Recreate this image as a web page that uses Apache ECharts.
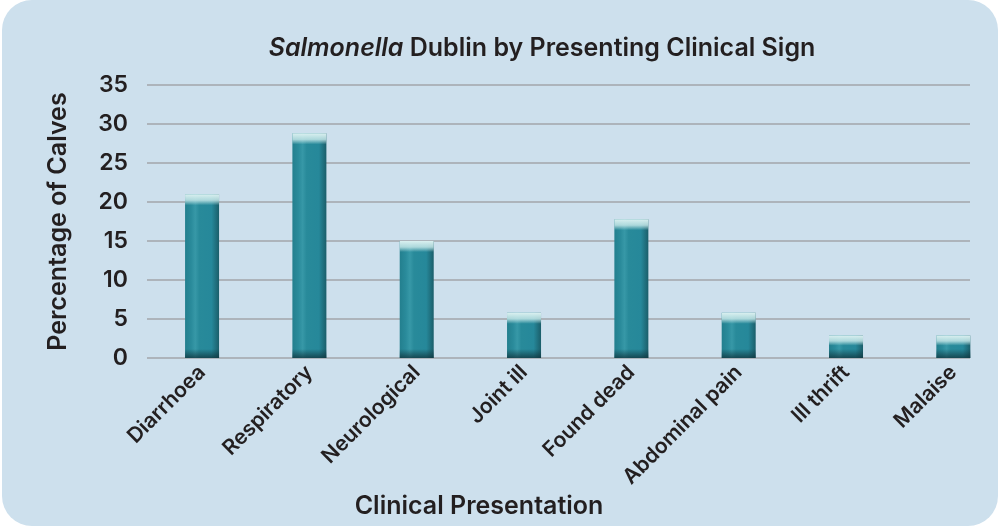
<!DOCTYPE html>
<html>
<head>
<meta charset="utf-8">
<script src="https://cdn.jsdelivr.net/npm/echarts@6/dist/echarts.min.js"></script>
<style>
  html, body { margin: 0; padding: 0; background: #fff; }
  #chart { width: 1000px; height: 526px; }
</style>
</head>
<body>
<div id="chart"></div>
<script>
var categories = ['Diarrhoea', 'Respiratory', 'Neurological', 'Joint ill', 'Found dead', 'Abdominal pain', 'Ill thrift', 'Malaise'];
var percentages = [21, 28.8, 15, 5.8, 17.8, 5.8, 2.9, 2.9];
var yTicks = [0, 5, 10, 15, 20, 25, 30, 35];

var FONT = 'Inter, "Open Sans", sans-serif';
var TEXT = '#231f20';
var plotTop = 85, plotHeight = 273;
var yMax = yTicks[yTicks.length - 1];
var pxPerUnit = plotHeight / yMax;

// bevel overlay per bar: light top edge, dark bottom edge (fixed pixel size)
function bevel(v) {
    var h = Math.max(v * pxPerUnit, 1);
    var t = Math.min(11 / h, 0.45);
    var b = Math.min(9 / h, 0.45);
    return {
        value: v,
        itemStyle: {
            color: new echarts.graphic.LinearGradient(0, 0, 0, 1, [
                { offset: 0, color: 'rgba(218,240,240,1)' },
                { offset: t * 0.55, color: 'rgba(196,230,231,0.85)' },
                { offset: t, color: 'rgba(196,230,231,0)' },
                { offset: 1 - b, color: 'rgba(15,50,58,0)' },
                { offset: 1, color: 'rgba(15,50,58,0.75)' }
            ])
        }
    };
}

var chart = echarts.init(document.getElementById('chart'));
chart.setOption({
    backgroundColor: '#ffffff',
    animation: false,
    graphic: [{
        type: 'rect', z: -10, silent: true,
        shape: { x: 2, y: 0, width: 996, height: 526, r: 30 },
        style: { fill: '#cde0ed' }
    }],
    title: [{
        text: '{i|Salmonella} Dublin by Presenting Clinical Sign',
        left: 537, top: 31, textAlign: 'center',
        textStyle: {
            fontFamily: FONT, fontSize: 25, fontWeight: 600, color: TEXT,
            rich: { i: { fontFamily: FONT, fontSize: 25, fontWeight: 600, fontStyle: 'italic', color: TEXT } }
        }
    }, {
        text: 'Clinical Presentation',
        left: 474, top: 489, textAlign: 'center',
        textStyle: { fontFamily: FONT, fontSize: 25, fontWeight: 600, color: TEXT }
    }],
    grid: [
        { left: 147, right: 30, top: plotTop, height: plotHeight, outerBoundsMode: 'none' },
        { left: 148.4, width: 858.6, top: plotTop, height: plotHeight, outerBoundsMode: 'none' }
    ],
    xAxis: [{
        gridIndex: 0, type: 'category', data: categories, show: false
    }, {
        gridIndex: 1, type: 'category', data: categories,
        axisLine: { show: false }, axisTick: { show: false },
        axisLabel: {
            rotate: 45, interval: 0, margin: 11,
            fontFamily: FONT, fontSize: 21, fontWeight: 600, color: TEXT
        }
    }],
    yAxis: [{
        gridIndex: 0, type: 'value', min: 0, max: yMax, interval: 5,
        name: 'Percentage of Calves', nameLocation: 'middle', nameGap: 76,
        nameTextStyle: { fontFamily: FONT, fontSize: 25, fontWeight: 600, color: TEXT },
        axisLine: { show: false }, axisTick: { show: false },
        axisLabel: {
            margin: 19, fontFamily: FONT, fontSize: 23, fontWeight: 600, color: TEXT,
            formatter: function (v) { return yTicks.indexOf(v) >= 0 ? String(v) : ''; }
        },
        splitLine: { lineStyle: { color: '#a2a6aa', width: 1.5 } }
    }, {
        gridIndex: 1, type: 'value', min: 0, max: yMax, interval: 5, show: false,
        splitLine: { show: false }
    }],
    series: [{
        type: 'bar', xAxisIndex: 1, yAxisIndex: 1,
        data: percentages, barWidth: 34, barGap: '-100%',
        itemStyle: {
            color: new echarts.graphic.LinearGradient(0, 0, 1, 0, [
                { offset: 0, color: '#237f8e' },
                { offset: 0.18, color: '#2a8b9b' },
                { offset: 0.3, color: '#3798a7' },
                { offset: 0.42, color: '#288a9a' },
                { offset: 0.78, color: '#26889a' },
                { offset: 1, color: '#1b5e6a' }
            ])
        }
    }, {
        type: 'bar', xAxisIndex: 1, yAxisIndex: 1,
        data: percentages.map(bevel), barWidth: 34, barGap: '-100%', z: 3
    }]
});
</script>
</body>
</html>
